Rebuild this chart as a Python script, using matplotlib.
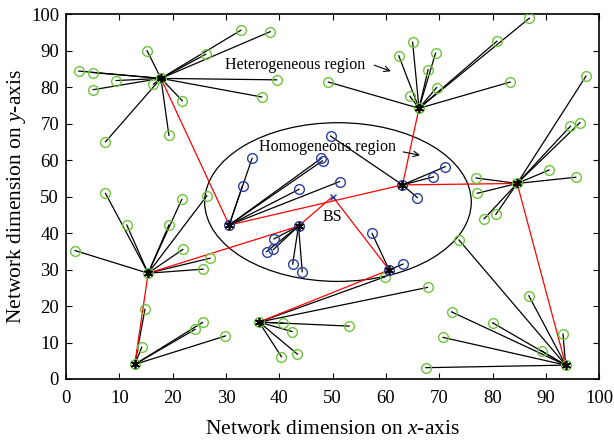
import matplotlib
matplotlib.use("Agg")
import matplotlib.pyplot as plt
from matplotlib.patches import Ellipse

plt.rcParams["font.family"] = ["Liberation Serif", "DejaVu Serif"]
plt.rcParams["mathtext.fontset"] = "custom"
plt.rcParams["mathtext.it"] = "Liberation Serif:italic"
plt.rcParams["mathtext.rm"] = "Liberation Serif"


# =====================================================
# Data
# =====================================================

# cluster heads (index 0..10)
ch_x = [17.8, 66.2, 84.6, 63.1, 30.6, 43.6, 60.6, 15.4, 12.9, 36.2, 93.7]
ch_y = [82.4, 74.2, 53.6, 53.2, 42.2, 41.9, 29.9, 29.0, 4.0, 15.6, 3.8]
ch_homog = [False, False, False, True, True, True, True, False, False, False, False]

# ordinary nodes and the cluster head they report to
node_x = [2.4, 5.0, 9.4, 5.1, 15.2, 26.2, 32.8, 16.4, 21.8, 7.4, 19.3, 36.7, 38.3, 39.5,
          49.2, 62.4, 65.0, 69.3, 67.9, 69.5, 64.5, 80.8, 86.9, 83.3,
          76.9, 77.1, 78.4, 80.6, 90.6, 95.6, 97.5, 94.6, 96.4,
          49.6, 71.1, 68.9, 65.9,
          34.9, 33.1, 47.9, 48.1, 51.3, 43.7,
          39.0, 38.9, 37.6, 42.5, 44.3,
          57.4, 63.2,
          1.7, 7.4, 11.4, 19.3, 21.7, 26.4, 21.9, 27.0, 25.7,
          14.8, 14.2, 24.2, 25.6, 29.9,
          40.7, 42.4, 53.1, 40.4, 43.4, 67.8, 59.8,
          72.3, 70.7, 67.5, 80.0, 86.8, 89.2, 93.2, 73.7]
node_y = [84.4, 84.0, 81.8, 79.3, 90.0, 89.0, 95.6, 80.8, 76.3, 65.0, 66.8, 77.3, 95.2, 82.0,
          81.4, 88.6, 92.3, 89.3, 84.8, 79.9, 77.5, 92.6, 98.9, 81.4,
          55.1, 50.9, 43.9, 45.1, 57.3, 55.3, 83.0, 69.3, 70.3,
          66.6, 58.2, 55.4, 49.7,
          60.5, 53.0, 60.5, 59.8, 54.1, 52.0,
          38.4, 35.5, 34.9, 31.5, 29.4,
          39.9, 31.5,
          35.2, 50.9, 42.2, 42.2, 49.2, 50.2, 35.5, 33.1, 30.1,
          19.1, 8.7, 13.6, 15.5, 11.8,
          15.3, 13.0, 14.5, 6.1, 6.8, 25.1, 28.0,
          18.4, 11.4, 3.1, 15.4, 22.8, 7.7, 12.3, 38.1]
node_head = [0] * 14 + [1] * 10 + [2] * 9 + [3] * 4 + [4] * 6 + [5] * 5 + [6] * 2 \
    + [7] * 9 + [8] * 5 + [9] * 7 + [10] * 8

bs_x, bs_y = 50.0, 50.0

# multi-hop route between cluster heads ("BS" = base station)
route = [(0, 4), (4, 3), (3, 1), (3, 2), (2, 10), (8, 7), (7, 5),
         (5, "BS"), ("BS", 6), (6, 9)]

GREEN = "#6cc63c"
BLUE = "#2b3f9e"


def pos(k):
    if k == "BS":
        return bs_x, bs_y
    return ch_x[k], ch_y[k]


# =====================================================
# Plot
# =====================================================

fig = plt.figure(figsize=(6.14, 4.43), dpi=100)
ax = fig.add_axes([0.1075, 0.1445, 0.8685, 0.8235])

# member -> cluster head links
for x, y, h in zip(node_x, node_y, node_head):
    ax.plot([x, ch_x[h]], [y, ch_y[h]], color="black", lw=0.9, zorder=2)

# route between heads
for a, b in route:
    xa, ya = pos(a)
    xb, yb = pos(b)
    ax.plot([xa, xb], [ya, yb], color="red", lw=0.9, zorder=3)

# homogeneous region
ax.add_patch(Ellipse((51.0, 48.5), 50.0, 43.5, fill=False, ec="black", lw=0.9, zorder=1))

# nodes
for x, y, h in zip(node_x, node_y, node_head):
    c = BLUE if ch_homog[h] else GREEN
    ax.plot(x, y, "o", mfc="none", mec=c, ms=7, mew=1.0, zorder=4)

for x, y, hom in zip(ch_x, ch_y, ch_homog):
    c = BLUE if hom else GREEN
    ax.plot(x, y, "o", mfc="none", mec=c, ms=7, mew=1.0, zorder=4)
    ax.plot(x, y, marker=(6, 2, 0), color="black", ms=6.5, mew=1.2, zorder=5)

ax.plot(bs_x, bs_y, "x", color=BLUE, ms=5, mew=1.0, zorder=5)
ax.text(bs_x, 44.5, "BS", ha="center", va="center", fontsize=11.5)

ax.text(29.8, 86.0, "Heterogeneous region", ha="left", va="center", fontsize=11.5)
ax.annotate("", xy=(61.4, 84.1), xytext=(57.3, 86.3),
            arrowprops=dict(arrowstyle="->", color="black", lw=0.8))
ax.text(36.1, 63.6, "Homogeneous region", ha="left", va="center", fontsize=11.5)
ax.annotate("", xy=(66.9, 61.2), xytext=(62.7, 62.4),
            arrowprops=dict(arrowstyle="->", color="black", lw=0.8))

ax.set_xlim(0, 100)
ax.set_ylim(0, 100)
ax.set_xticks(range(0, 101, 10))
ax.set_yticks(range(0, 101, 10))
ax.tick_params(direction="in", top=True, right=True, labelsize=13.5, length=4)
ax.tick_params(axis="x", pad=8)
ax.tick_params(axis="y", pad=5)
for s in ax.spines.values():
    s.set_linewidth(1.2)

ax.set_xlabel("Network dimension on $x$-axis", fontsize=15.5, labelpad=9)
ax.set_ylabel("Network dimension on $y$-axis", fontsize=15.5, labelpad=2)

fig.savefig("out.png", dpi=100)
plt.close(fig)
